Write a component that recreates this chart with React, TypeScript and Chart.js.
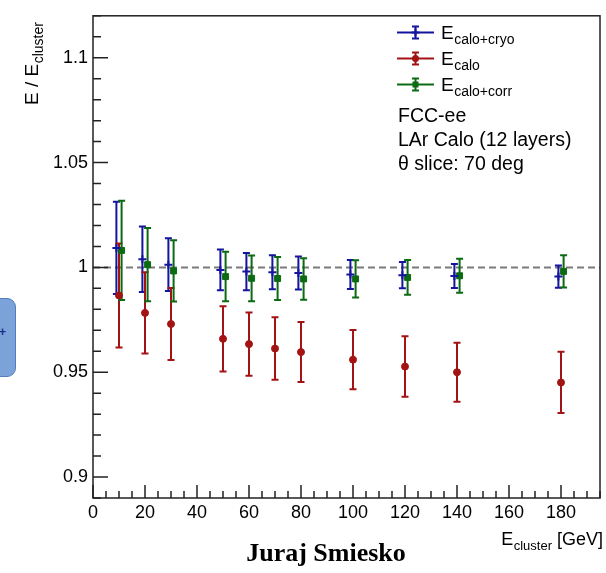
import React, { useEffect, useRef } from 'react';
import { Chart, registerables } from 'chart.js';

Chart.register(...registerables);

// ---- data ----
const caloCryoX = [9, 19, 29, 49, 59, 69, 79, 99, 119, 139, 179];
const caloCryoY = [1.0093, 1.0039, 1.0013, 0.9988, 0.998, 0.9977, 0.9973, 0.9966, 0.9963, 0.9959, 0.9956];
const caloCryoErr = [0.022, 0.0156, 0.0126, 0.0097, 0.0089, 0.0081, 0.0079, 0.0069, 0.0063, 0.0057, 0.0053];

const caloX = [10, 20, 30, 50, 60, 70, 80, 100, 120, 140, 180];
const caloY = [0.9866, 0.9783, 0.973, 0.9659, 0.9634, 0.9613, 0.9596, 0.956, 0.9527, 0.95, 0.9451];
const caloErr = [0.0248, 0.0194, 0.0172, 0.0156, 0.0151, 0.0149, 0.0143, 0.0141, 0.0144, 0.0141, 0.0146];

const caloCorrX = [11, 21, 31, 51, 61, 71, 81, 101, 121, 141, 181];
const caloCorrY = [1.0081, 1.0013, 0.9983, 0.9956, 0.9948, 0.9947, 0.9945, 0.9945, 0.9952, 0.996, 0.9981];
const caloCorrErr = [0.0237, 0.0175, 0.0146, 0.0118, 0.0109, 0.0102, 0.0099, 0.0089, 0.0083, 0.0081, 0.0077];

const seriesSubs = ['calo+cryo', 'calo', 'calo+corr'];
const xTicks = [0, 20, 40, 60, 80, 100, 120, 140, 160, 180];
const yTicks = [0.9, 0.95, 1, 1.05, 1.1];
const xRange = [0, 195];
const yRange = [0.89, 1.12];
const xMinorStep = 5;
const yMinorStep = 0.01;
const refValue = 1;
const infoLines = ['FCC-ee', 'LAr Calo (12 layers)', 'θ slice: 70 deg'];
const yTitleMain = 'E / E';
const yTitleSub = 'cluster';
const xTitleMain = 'E';
const xTitleSub = 'cluster';
const xTitleUnit = ' [GeV]';
const author = 'Juraj Smiesko';

const FONT = "'Liberation Sans', Arial, Helvetica, sans-serif";
const BLUE = '#14149e';
const RED = '#a31313';
const GREEN = '#0b6a12';

const series = [
  { sub: seriesSubs[0], xs: caloCryoX, ys: caloCryoY, errs: caloCryoErr, color: BLUE, marker: 'cross' },
  { sub: seriesSubs[1], xs: caloX, ys: caloY, errs: caloErr, color: RED, marker: 'circle' },
  { sub: seriesSubs[2], xs: caloCorrX, ys: caloCorrY, errs: caloCorrErr, color: GREEN, marker: 'rect' },
];

function drawMarker(ctx: CanvasRenderingContext2D, kind: string, x: number, y: number, color: string) {
  ctx.save();
  ctx.fillStyle = color;
  ctx.strokeStyle = color;
  ctx.lineWidth = 2;
  ctx.setLineDash([]);
  if (kind === 'circle') {
    ctx.beginPath();
    ctx.arc(x, y, 3.5, 0, Math.PI * 2);
    ctx.fill();
  } else if (kind === 'cross') {
    ctx.beginPath();
    ctx.moveTo(x - 4, y);
    ctx.lineTo(x + 4, y);
    ctx.moveTo(x, y - 4);
    ctx.lineTo(x, y + 4);
    ctx.stroke();
  } else {
    ctx.fillRect(x - 3, y - 3, 6, 6);
  }
  ctx.restore();
}

function drawErrBar(ctx: CanvasRenderingContext2D, x: number, yTop: number, yBot: number, color: string) {
  ctx.save();
  ctx.strokeStyle = color;
  ctx.lineWidth = 2;
  ctx.setLineDash([]);
  ctx.beginPath();
  ctx.moveTo(x, yTop);
  ctx.lineTo(x, yBot);
  ctx.moveTo(x - 3.5, yTop);
  ctx.lineTo(x + 3.5, yTop);
  ctx.moveTo(x - 3.5, yBot);
  ctx.lineTo(x + 3.5, yBot);
  ctx.stroke();
  ctx.restore();
}

function drawSubText(
  ctx: CanvasRenderingContext2D,
  x: number,
  y: number,
  main: string,
  sub: string,
  tail: string,
  mainSize: number,
  subSize: number,
  drop: number
) {
  ctx.font = `${mainSize}px ${FONT}`;
  ctx.fillText(main, x, y);
  let cx = x + ctx.measureText(main).width + 0.5;
  ctx.font = `${subSize}px ${FONT}`;
  ctx.fillText(sub, cx, y + drop);
  cx += ctx.measureText(sub).width;
  if (tail) {
    ctx.font = `${mainSize}px ${FONT}`;
    ctx.fillText(tail, cx, y);
  }
}

function measureSubText(ctx: CanvasRenderingContext2D, main: string, sub: string, tail: string, mainSize: number, subSize: number) {
  ctx.font = `${mainSize}px ${FONT}`;
  let w = ctx.measureText(main).width + 0.5 + ctx.measureText(tail).width;
  ctx.font = `${subSize}px ${FONT}`;
  w += ctx.measureText(sub).width;
  return w;
}

const rootPlugin = {
  id: 'rootStyle',
  beforeDatasetsDraw(chart: any) {
    const { ctx, chartArea: a } = chart;
    const xs = chart.scales.x;
    const ys = chart.scales.y;
    // reference dashed line
    ctx.save();
    ctx.strokeStyle = '#7a7a7a';
    ctx.lineWidth = 2;
    ctx.setLineDash([7, 4]);
    const yr = ys.getPixelForValue(refValue);
    ctx.beginPath();
    ctx.moveTo(a.left, yr);
    ctx.lineTo(a.right, yr);
    ctx.stroke();
    ctx.restore();
    // error bars
    series.forEach((s) => {
      s.xs.forEach((xv, i) => {
        const px = xs.getPixelForValue(xv);
        const top = ys.getPixelForValue(s.ys[i] + s.errs[i]);
        const bot = ys.getPixelForValue(s.ys[i] - s.errs[i]);
        drawErrBar(ctx, px, top, bot, s.color);
      });
    });
  },
  afterDraw(chart: any) {
    const { ctx, chartArea: a } = chart;
    const xs = chart.scales.x;
    const ys = chart.scales.y;
    ctx.save();
    // frame
    ctx.strokeStyle = '#222';
    ctx.lineWidth = 1.5;
    ctx.strokeRect(a.left, a.top, a.right - a.left, a.bottom - a.top);
    // inner ticks: y axis
    ctx.beginPath();
    const nY = Math.round((yRange[1] - yRange[0]) / yMinorStep);
    for (let k = 0; k <= nY; k++) {
      const v = yRange[0] + k * yMinorStep;
      const major = yTicks.some((t) => Math.abs(t - v) < 1e-6);
      const py = ys.getPixelForValue(v);
      ctx.moveTo(a.left, py);
      ctx.lineTo(a.left + (major ? 15 : 8), py);
    }
    // inner ticks: x axis
    const nX = Math.floor((xRange[1] - xRange[0]) / xMinorStep);
    for (let k = 0; k <= nX; k++) {
      const v = xRange[0] + k * xMinorStep;
      const major = xTicks.some((t) => Math.abs(t - v) < 1e-6);
      const px = xs.getPixelForValue(v);
      ctx.moveTo(px, a.bottom);
      ctx.lineTo(px, a.bottom - (major ? 13 : 7));
    }
    ctx.stroke();

    ctx.fillStyle = '#000';
    ctx.textAlign = 'left';
    ctx.textBaseline = 'alphabetic';

    // y title (rotated)
    ctx.save();
    ctx.translate(38, 105);
    ctx.rotate(-Math.PI / 2);
    drawSubText(ctx, 0, 0, yTitleMain, yTitleSub, '', 19, 14, 5);
    ctx.restore();

    // x title (right aligned)
    const wX = measureSubText(ctx, xTitleMain, xTitleSub, xTitleUnit, 18, 13);
    drawSubText(ctx, 603 - wX, 545, xTitleMain, xTitleSub, xTitleUnit, 18, 13, 5);

    // legend
    const legX0 = 397;
    const legX1 = 434;
    const legMid = (legX0 + legX1) / 2;
    series.forEach((s, i) => {
      const base = 39 + i * 26;
      const cy = base - 6.5;
      ctx.save();
      ctx.strokeStyle = s.color;
      ctx.lineWidth = 2;
      ctx.beginPath();
      ctx.moveTo(legX0, cy);
      ctx.lineTo(legX1, cy);
      ctx.stroke();
      ctx.restore();
      drawErrBar(ctx, legMid, cy - 6, cy + 6, s.color);
      drawMarker(ctx, s.marker, legMid, cy, s.color);
      ctx.fillStyle = '#000';
      drawSubText(ctx, 441, base, 'E', s.sub, '', 19, 14, 5);
    });

    // info text
    ctx.font = `19.5px ${FONT}`;
    infoLines.forEach((t, i) => {
      ctx.fillText(t, 398, 121.5 + i * 24.3);
    });
    ctx.restore();
  },
};

export default function App() {
  const ref = useRef<HTMLCanvasElement | null>(null);

  useEffect(() => {
    if (!ref.current) return;
    const pointStyles: any = { cross: 'cross', circle: 'circle', rect: 'rect' };
    const chart = new Chart(ref.current, {
      type: 'scatter',
      data: {
        datasets: series.map((s) => ({
          label: 'E' + s.sub,
          data: s.xs.map((xv, i) => ({ x: xv, y: s.ys[i] })),
          showLine: false,
          pointStyle: pointStyles[s.marker],
          pointRadius: s.marker === 'circle' ? 3.5 : s.marker === 'cross' ? 4 : 4.2,
          pointHoverRadius: 4,
          borderWidth: s.marker === 'cross' ? 2 : 1,
          borderColor: s.color,
          backgroundColor: s.color,
        })),
      },
      options: {
        responsive: false,
        animation: false,
        devicePixelRatio: 1,
        layout: { padding: { left: 0, right: 5, top: 9, bottom: 0 } },
        plugins: { legend: { display: false }, tooltip: { enabled: false } },
        scales: {
          x: {
            type: 'linear',
            min: xRange[0],
            max: xRange[1],
            afterBuildTicks: (s: any) => {
              s.ticks = xTicks.map((v) => ({ value: v }));
            },
            afterFit: (s: any) => {
              s.height = 75;
            },
            grid: { display: true, drawOnChartArea: false, drawTicks: false },
            border: { display: false },
            ticks: {
              color: '#000',
              font: { family: FONT, size: 18 },
              padding: 4,
              autoSkip: false,
              maxRotation: 0,
              callback: (v: any) => String(v),
            },
          },
          y: {
            type: 'linear',
            min: yRange[0],
            max: yRange[1],
            afterBuildTicks: (s: any) => {
              s.ticks = yTicks.map((v) => ({ value: v }));
            },
            afterFit: (s: any) => {
              s.width = 93;
            },
            grid: { display: true, drawOnChartArea: false, drawTicks: false },
            border: { display: false },
            ticks: {
              color: '#000',
              font: { family: FONT, size: 18 },
              padding: 5,
              autoSkip: false,
              callback: (v: any) => String(+Number(v).toFixed(2)),
            },
          },
        },
      },
      plugins: [rootPlugin],
    } as any);
    return () => chart.destroy();
  }, []);

  return (
    <div style={{ position: 'absolute', left: 0, top: 0, width: 606, height: 573, overflow: 'hidden', background: '#fff' }}>
      <canvas ref={ref} width={606} height={573} style={{ display: 'block', width: 606, height: 573 }} />
      <div
        style={{
          position: 'absolute',
          left: -40,
          top: 298,
          width: 54,
          height: 77,
          background: '#7ba3d9',
          border: '1.5px solid #4f7dbf',
          borderRadius: 9,
        }}
      >
        <span
          style={{
            position: 'absolute',
            left: 38,
            top: 26,
            color: '#1c2f8a',
            font: `bold 12px ${FONT}`,
          }}
        >
          +
        </span>
      </div>
      <div
        style={{
          position: 'absolute',
          left: 0,
          width: 652,
          top: 540,
          textAlign: 'center',
          font: "bold 26px 'Liberation Serif', 'Times New Roman', serif",
          lineHeight: '26px',
          color: '#000',
        }}
      >
        {author}
      </div>
    </div>
  );
}
